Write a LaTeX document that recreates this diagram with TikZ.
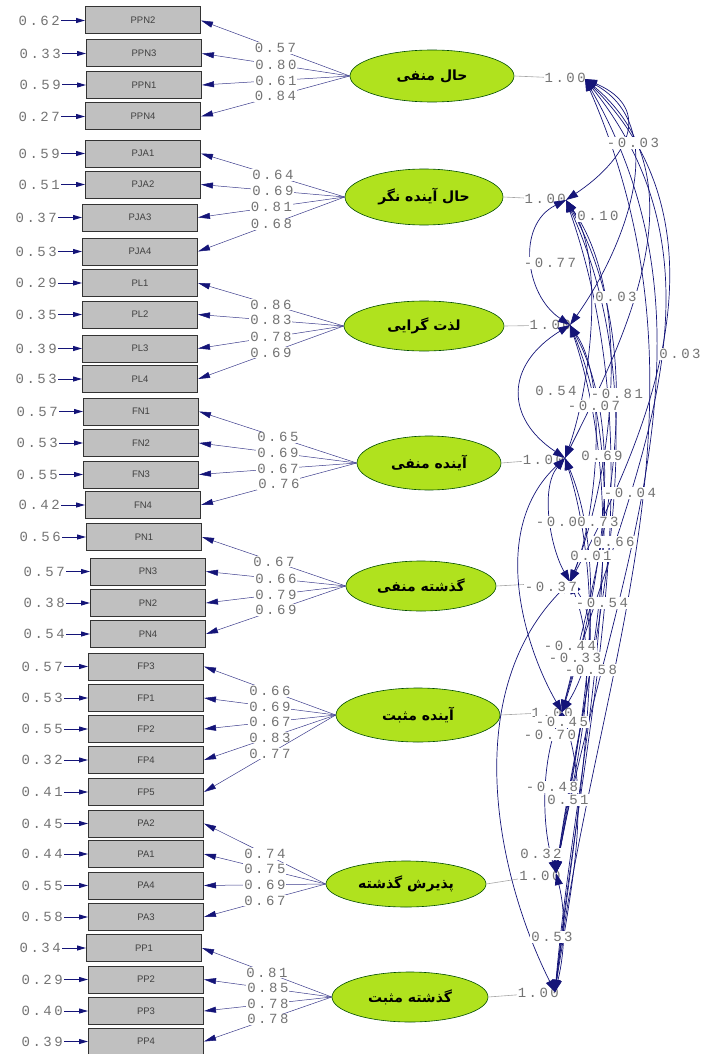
\documentclass[tikz,border=0pt]{standalone}
\usepackage{fontspec}
\usetikzlibrary{arrows.meta,positioning,shapes.geometric}
\setmainfont{Liberation Sans}
\newfontfamily\numfont[LetterSpace=18]{Liberation Mono}
\newfontfamily\fafont[Script=Arabic]{DejaVu Sans}
\TeXXeTstate=1
\definecolor{flecha}{RGB}{20,20,120}
\definecolor{linea}{RGB}{60,60,140}
\definecolor{caja}{RGB}{192,192,192}
\definecolor{verde}{RGB}{176,226,30}
\definecolor{numero}{RGB}{115,115,115}
\tikzset{
  obs/.style={draw=black!80, line width=1pt, fill=caja, minimum width=115pt,
    minimum height=27pt, inner sep=0pt, font=\fontsize{9.5}{9.5}\selectfont, text=black!75},
  lat/.style={ellipse, draw=black!70!green, line width=0.6pt, fill=verde, inner sep=0pt,
    font=\fafont\bfseries\fontsize{14}{14}\selectfont},
  num/.style={font=\numfont\fontsize{14}{14}\selectfont, text=numero, inner sep=1pt},
  numbox/.style={num, fill=white},
  carga/.style={draw=linea, line width=0.5pt, -{Triangle[length=12pt,width=6pt,color=flecha]}},
  error/.style={draw=flecha, line width=1pt, -{Triangle[length=9pt,width=5pt]}},
  varianza/.style={draw=black!35, line width=0.6pt},
  cov/.style={draw=flecha, line width=0.7pt,
    {Triangle[length=12pt,width=8pt]}-{Triangle[length=12pt,width=8pt]}}
}
\begin{document}
\begin{tikzpicture}[x=1pt,y=-1pt]
  \useasboundingbox (0,0) rectangle (702,1054);

  % Variables observadas con sus errores
  \foreach \n/\x/\y/\e in {PPN2/143/20.5/0.62, PPN3/144/53.5/0.33, PPN1/144/85/0.59, PPN4/143/116.5/0.27,
      PJA1/143/153.5/0.59, PJA2/143/184.5/0.51, PJA3/140/217.5/0.37, PJA4/140/251.5/0.53,
      PL1/140/283/0.29, PL2/140/314.5/0.35, PL3/140/348.5/0.39, PL4/140/379/0.53,
      FN1/141/411.5/0.57, FN2/141/443/0.53, FN3/141/474.5/0.55, FN4/143/505/0.42,
      PN1/144/537/0.56, PN3/148/571.5/0.57, PN2/148/603/0.38, PN4/148/634/0.54,
      FP3/146/666.5/0.57, FP1/146/698/0.53, FP2/146/729/0.55, FP4/146/760/0.32, FP5/146/792/0.41,
      PA2/146/823.5/0.45, PA1/146/854/0.44, PA4/146/885.5/0.55, PA3/146/917/0.58,
      PP1/144/948/0.34, PP2/146/979.5/0.29, PP3/146/1011/0.40, PP4/146/1041.5/0.39}{
    \node[obs] (\n) at (\x,\y) {\n};
    \node[num, left=24pt of \n] (e\n) {\e};
    \draw[error] (e\n) -- (\n);
  }

  % Variables latentes
  \foreach \n/\x/\y/\w/\h/\t in {F1/432/76/164/52/حال منفی, F2/424/197/158/56/حال آینده نگر,
      F3/424/326/160/50/لذت گرایی, F4/429/463/144/54/آینده منفی, F5/421/586/150/50/گذشته منفی,
      F6/418/715/164/54/آینده مثبت, F7/406/884/160/46/پذیرش گذشته, F8/410/997/156/50/گذشته مثبت}{
    \node[lat, minimum width=\w pt, minimum height=\h pt] (\n) at (\x,\y) {\beginR\t\endR};
  }

  % Cargas factoriales
  \foreach \f/\o/\v in {F1/PPN2/0.57, F1/PPN3/0.80, F1/PPN1/0.61, F1/PPN4/0.84,
      F2/PJA1/0.64, F2/PJA2/0.69, F2/PJA3/0.81, F2/PJA4/0.68,
      F3/PL1/0.86, F3/PL2/0.83, F3/PL3/0.78, F3/PL4/0.69,
      F4/FN1/0.65, F4/FN2/0.69, F4/FN3/0.67, F4/FN4/0.76,
      F5/PN1/0.67, F5/PN3/0.66, F5/PN2/0.79, F5/PN4/0.69,
      F6/FP3/0.66, F6/FP1/0.69, F6/FP2/0.67, F6/FP4/0.83, F6/FP5/0.77,
      F7/PA2/0.74, F7/PA1/0.75, F7/PA4/0.69, F7/PA3/0.67,
      F8/PP1/0.81, F8/PP2/0.85, F8/PP3/0.78, F8/PP4/0.78}{
    \draw[carga] (\f.west) -- node[numbox] (l\o) {\v} (\o.east);
  }

  % Puntos donde llegan las covarianzas
  \coordinate (h1) at (585,79);
  \coordinate (h2) at (566,200);
  \coordinate (h3) at (570,325);
  \coordinate (h4) at (565,458);
  \coordinate (h5) at (570,582);
  \coordinate (h6) at (562,712);
  \coordinate (h7) at (556,873);
  \coordinate (h8) at (555,992);

  % Varianzas de los factores
  \foreach \i/\p in {1/0.72, 2/0.67, 3/0.7, 4/0.66, 6/0.84, 7/0.77, 8/0.75}{
    \draw[varianza] (F\i.east) -- node[numbox, pos=\p] (v\i) {1.00} (h\i);
  }
  \draw[varianza] (F5.east) -- (h5);

  % Covarianzas entre factores
  \foreach \a/\b/\p/\q/\r/\s in {1/2/70/30/60/-40, 1/3/90/50/50/-70, 1/4/120/100/60/-120,
      1/5/150/150/80/-150, 1/6/160/200/60/-220, 1/7/150/260/50/-280, 1/8/140/320/40/-320,
      2/3/-50/25/-45/-30, 2/4/40/60/25/-70, 2/5/70/100/40/-100, 2/6/90/160/40/-160,
      2/7/100/220/30/-220, 2/8/90/260/30/-280,
      3/4/-65/40/-60/-40, 3/5/40/60/25/-60, 3/6/60/110/35/-110, 3/7/70/170/25/-170, 3/8/70/210/20/-230,
      4/5/-25/30/-20/-35, 4/6/-75/70/-40/-70, 4/7/50/120/20/-120, 4/8/50/160/20/-170,
      5/6/30/40/25/-40, 5/7/35/90/15/-90, 5/8/-110/110/-60/-120,
      6/7/-20/50/-15/-50, 6/8/30/90/15/-100, 7/8/10/40/10/-40}{
    \draw[cov] (h\a) .. controls +(\p,\q) and +(\r,\s) .. (h\b);
  }

  % Valores de las covarianzas
  \foreach \v/\x/\y [count=\k] in {-0.03/633/143, 0.10/598/216, -0.77/550/263, 0.03/616/297,
      0.03/680/354, 0.54/556/391, -0.81/617/394, -0.07/594/406, 0.69/602/456, -0.04/630/493,
      -0.05/562/522, 0.73/598/522, 0.66/614/542, 0.01/591/556, -0.37/551/587, -0.54/602/603,
      -0.44/570/646, -0.33/575/658, -0.58/591/670, -0.45/562/722, -0.70/550/735,
      -0.48/552/787, 0.51/568/800, 0.32/541/854, 0.53/552/937}{
    \node[numbox] (c\k) at (\x,\y) {\v};
  }
\end{tikzpicture}
\end{document}
